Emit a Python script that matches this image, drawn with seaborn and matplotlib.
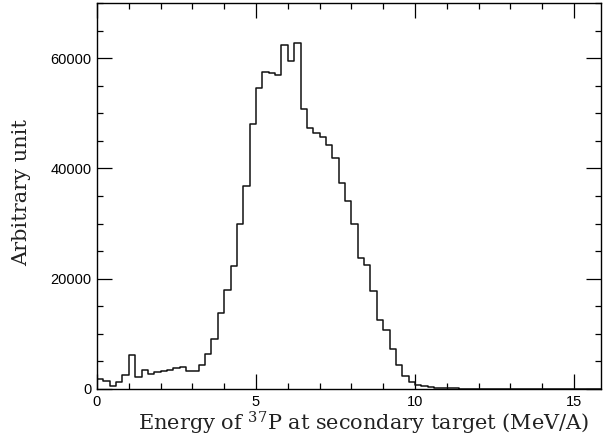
import numpy as np
import pandas as pd
import matplotlib
matplotlib.use("Agg")
import matplotlib.pyplot as plt
from matplotlib.ticker import MultipleLocator
import seaborn as sns

# Histogram data: counts per 0.2 MeV/A bin, from 0 to 16 MeV/A
bin_edges = [round(v, 1) for v in np.arange(0, 16.0001, 0.2)]
counts = [
    1750, 1500, 500, 1200, 2450, 6200, 2250, 3450, 2650, 3100,
    3300, 3500, 3850, 4000, 3300, 3300, 4400, 6350, 9100, 13850,
    17950, 22300, 30000, 36900, 48000, 54600, 57400, 57300, 56900, 62400,
    59500, 62800, 50800, 47300, 46400, 45700, 44300, 41950, 37300, 34100,
    29850, 23700, 22400, 17800, 12450, 10700, 7300, 4400, 2400, 1250,
    720, 500, 350, 250, 180, 130, 100, 70, 50, 40,
    30, 20, 15, 12, 10, 8, 6, 5, 4, 3,
    2, 2, 1, 1, 1, 0, 0, 0, 0, 0,
]
x_major_ticks = [0, 5, 10, 15]
y_major_ticks = [0, 20000, 40000, 60000]

edges_arr = np.array(bin_edges)
centers = (edges_arr[:-1] + edges_arr[1:]) / 2
df = pd.DataFrame({"energy": centers, "count": counts})

sns.set_theme(style="ticks")
plt.rcParams["mathtext.fontset"] = "dejavuserif"

fig = plt.figure(figsize=(6.04, 4.41), dpi=100)
ax = fig.add_axes([97 / 604, 52 / 441, 504 / 604, 386 / 441])

sns.histplot(data=df, x="energy", weights="count", bins=bin_edges,
             element="step", fill=False, color="#111111", linewidth=1.1, ax=ax)

ax.set_xlim(0, 15.85)
ax.set_ylim(0, 70000)
ax.set_xticks(x_major_ticks)
ax.set_yticks(y_major_ticks)
ax.xaxis.set_minor_locator(MultipleLocator(1))
ax.yaxis.set_minor_locator(MultipleLocator(5000))
ax.tick_params(which="both", direction="in", top=True, right=True, color="black",
               width=0.9)
ax.tick_params(which="major", length=11, labelsize=10.5, pad=4)
ax.tick_params(which="minor", length=4)
for lab in ax.get_xticklabels() + ax.get_yticklabels():
    lab.set_fontfamily("Liberation Sans")
    lab.set_color("black")
for sp in ax.spines.values():
    sp.set_color("black")
    sp.set_linewidth(1.0)

ax.set_xlabel(r"Energy of $^{37}$P at secondary target (MeV/A)",
              fontfamily="DejaVu Serif", fontsize=15, color="#222222")
ax.set_ylabel("Arbitrary unit", fontfamily="DejaVu Serif", fontsize=15,
              color="#222222")
ax.xaxis.set_label_coords(0.53, -0.055)
ax.yaxis.set_label_coords(-0.13, 0.51)

fig.savefig("out.png", dpi=100)
